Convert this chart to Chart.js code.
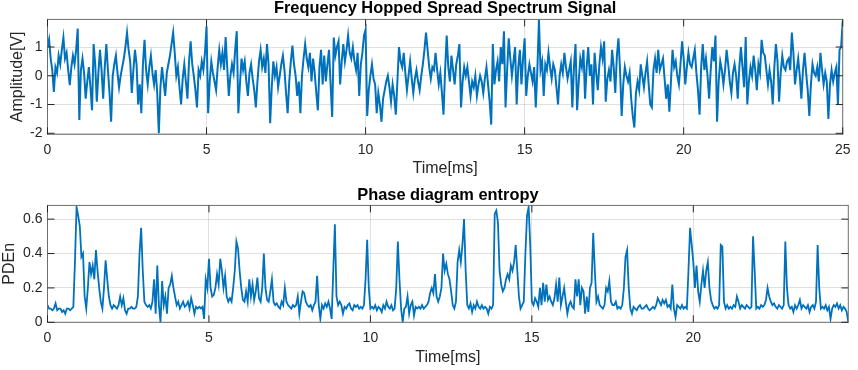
<!DOCTYPE html>
<html>
<head>
<meta charset="utf-8">
<script src="https://cdn.jsdelivr.net/npm/chart.js@4.4.1/dist/chart.umd.min.js"></script>
<style>
  html, body { margin: 0; padding: 0; background: #fff; }
  #wrap { position: relative; width: 858px; height: 370px; }
  canvas { position: absolute; left: 0; }
</style>
</head>
<body>
<div id="wrap">
  <canvas id="signalChart" width="858" height="185" style="top:0"></canvas>
  <canvas id="entropyChart" width="858" height="185" style="top:185px"></canvas>
</div>
<script>
// both traces are sampled every 0.05 ms, one row per millisecond
const sampleStep = 0.05;
const timeTicks = [0, 5, 10, 15, 20, 25];
const ampTicks = [-2, -1, 0, 1];
const pdenTicks = [0, 0.2, 0.4, 0.6];

const ampValues = [
    1.0, 1.27, 0.6, 0.2, -0.56, 0.3, 0.1, 0.7, 0.4, 0.9, 1.33, 0.6, 0.8, 0.2, -0.33, 0.3, 0.7, 0.4, 0.9, 1.64,
    -1.54, 0.2, 0.6, 0.1, -0.8, -0.2, 0.3, -0.4, -1.2, 1.1, 0.4, -0.9, 0.1, 0.9, 0.2, -0.8, 0.3, 1.1, 0.2, -0.6,
    -1.6, 0.0, 0.4, 0.7, 0.1, -0.4, 0.0, 0.3, 0.6, 1.0, 1.5, 0.9, 0.5, -0.6, 0.2, 0.9, 0.4, -1.0, -0.3, -1.3,
    0.4, 1.25, 0.2, -0.3, 0.3, 0.7, 0.1, -0.3, 0.2, -0.6, -2.0, -0.4, 0.3, -0.2, -0.7, 0.1, 0.4, 0.7, 1.1, 1.5,
    0.8, 0.0, 0.3, -0.4, -1.0, -0.1, 0.4, -0.2, -0.8, 0.5, 1.2, 0.4, 0.0, -0.5, -1.1, 0.2, 0.0, 0.5, 0.2, 0.8,
    1.72, -1.3, -0.2, 0.5, 0.1, -0.2, -0.5, 0.3, 0.9, 0.4, 0.8, 0.2, 1.35, 0.3, -0.7, 0.0, 0.4, 0.1, 0.9, 1.55,
    -1.3, -0.3, 0.6, 0.2, 0.5, -0.2, -0.7, 0.1, 0.4, -0.1, -0.5, -1.1, -0.2, 0.5, 0.9, 0.3, 0.6, 0.1, 1.1, 0.4,
    -1.65, -0.4, 0.5, 0.0, 0.3, -0.4, 0.0, 0.4, 0.7, 0.2, -0.6, -1.3, -0.2, 0.5, 1.05, 0.4, 0.0, -0.7, -0.2, -1.3,
    0.0, 0.6, 1.1, 0.6, 0.3, 0.8, -0.2, 0.6, 0.1, -0.6, -1.2, 0.3, 0.9, -0.3, 0.7, -0.2, 0.4, 0.9, -0.3, -1.43,
    1.33, 0.7, 1.0, 1.2, -0.3, 0.5, 1.1, 0.5, 0.9, 1.4, 0.8, 0.6, 1.0, 0.5, 0.2, 0.8, -0.7, 0.4, 0.8, 1.4,
    1.6, -1.4, -0.5, 0.0, 0.4, -0.1, -0.3, -1.3, -0.6, -1.0, -1.6, -0.8, -0.5, -0.2, 0.0, -0.4, -0.9, -0.3, -0.7, -1.35,
    -0.2, 1.0, 0.5, 0.3, 0.8, 0.1, -0.5, 0.0, 0.5, -0.1, -0.6, -0.1, 0.2, -0.2, -0.5, 0.0, 0.4, 0.9, 1.5, 0.9,
    0.3, -0.1, 0.3, 0.2, 0.8, 0.2, -0.3, 0.1, -0.6, -1.35, 0.2, 1.4, 0.3, -0.2, 0.7, 0.2, -0.3, 0.4, 0.7, 1.1,
    -1.1, -0.2, 0.3, 0.0, 0.3, -0.2, -0.7, -0.2, -0.4, 0.0, -0.7, -0.3, 0.0, -0.2, -0.6, -0.1, 0.3, -0.3, -0.9, -1.7,
    1.1, -0.3, 0.2, 0.5, -0.2, 1.0, 0.4, 1.55, -1.1, 0.2, 1.3, 0.6, 0.0, 0.5, 1.0, -1.0, 0.3, 0.9, -0.3, 0.6,
    1.3, -0.7, 0.0, 0.4, 0.1, -0.2, 0.3, -1.1, 0.2, 1.95, 0.2, 0.5, -0.7, 0.4, 0.2, 0.8, 0.3, -0.1, 0.4, 0.2,
    -0.4, -1.0, 0.0, 0.4, 0.1, 0.8, 0.3, -0.1, 0.2, 0.5, -1.1, 0.3, 1.1, -1.2, -0.2, 0.6, 0.3, 0.9, -0.8, 0.3,
    1.0, 0.0, 0.4, -1.0, 0.8, 0.1, -0.5, 0.4, 1.0, 0.6, 1.2, -0.9, -0.1, 0.2, -0.2, 0.9, 0.3, -0.6, 0.7, 1.3,
    0.2, -1.4, -0.3, 0.3, 0.0, -0.2, 0.1, -0.8, -1.4, -1.8, -0.6, -0.2, -0.5, 0.4, 0.0, -0.4, 0.1, 0.5, -0.3, -1.0,
    -1.1, 0.2, 0.6, 0.1, 0.9, 0.2, 0.4, 0.6, -0.1, -0.8, -0.3, -1.25, -0.2, 0.9, 0.3, 0.5, 0.0, -0.3, 0.4, 1.2,
    0.6, -0.3, 0.3, 0.8, 0.4, 0.3, 0.6, 0.9, 0.1, -0.5, -1.35, 0.3, 1.1, 0.2, 0.6, 0.0, -0.8, 0.2, 1.0, 0.5,
    1.4, -1.6, -0.2, 0.5, 0.2, -0.3, 0.2, 0.9, 0.4, -0.2, -0.6, 0.1, 0.4, 0.0, -0.8, 0.3, 1.0, 0.3, -0.4, 1.35,
    -1.0, -0.2, 0.3, 0.0, 0.7, 0.2, -0.5, 0.4, 0.1, 1.25, 0.8, 0.7, 0.2, -0.3, 0.2, -0.2, -1.0, 0.3, 1.1, 0.5,
    -0.9, 0.1, 0.7, 0.3, 0.2, 0.5, 0.6, 0.2, 1.5, 0.8, -0.3, 0.2, 0.6, 0.0, -0.8, 0.2, 0.8, 0.1, -0.5, -1.4,
    -0.3, 0.4, 0.1, 0.0, 0.3, -0.2, 0.8, 0.2, -0.3, 0.1, -0.2, -1.5, -0.3, 0.2, -0.2, 0.1, 0.3, -1.0, 0.9, 1.0,
    1.9
];

const pdenValues = [
    0.10, 0.08, 0.08, 0.07, 0.08, 0.11, 0.07, 0.08, 0.08, 0.06, 0.07, 0.05, 0.08, 0.08, 0.07, 0.08, 0.09, 0.35, 0.67, 0.62,
    0.56, 0.38, 0.40, 0.15, 0.08, 0.20, 0.35, 0.28, 0.33, 0.25, 0.42, 0.30, 0.20, 0.12, 0.08, 0.20, 0.36, 0.25, 0.15, 0.10,
    0.08, 0.10, 0.09, 0.08, 0.10, 0.15, 0.10, 0.14, 0.07, 0.05, 0.08, 0.08, 0.09, 0.08, 0.08, 0.09, 0.15, 0.40, 0.55, 0.30,
    0.12, 0.10, 0.09, 0.10, 0.08, 0.12, 0.25, 0.05, 0.33, 0.10, 0.00, 0.24, 0.10, 0.15, 0.05, 0.20, 0.22, 0.27, 0.20, 0.15,
    0.10, 0.12, 0.08, 0.10, 0.12, 0.09, 0.10, 0.12, 0.08, 0.14, 0.10, 0.05, 0.09, 0.08, 0.09, 0.08, 0.09, 0.02, 0.25, 0.20,
    0.37, 0.20, 0.15, 0.16, 0.20, 0.28, 0.22, 0.37, 0.30, 0.20, 0.27, 0.15, 0.12, 0.14, 0.12, 0.20, 0.30, 0.47, 0.43, 0.30,
    0.20, 0.13, 0.12, 0.18, 0.12, 0.25, 0.15, 0.22, 0.13, 0.18, 0.26, 0.14, 0.12, 0.20, 0.40, 0.20, 0.13, 0.12, 0.18, 0.25,
    0.12, 0.10, 0.11, 0.09, 0.08, 0.12, 0.10, 0.20, 0.12, 0.10, 0.09, 0.08, 0.10, 0.09, 0.10, 0.15, 0.05, 0.12, 0.18, 0.17,
    0.12, 0.10, 0.09, 0.10, 0.07, 0.10, 0.12, 0.27, 0.10, 0.02, 0.10, 0.08, 0.11, 0.09, 0.12, 0.08, 0.02, 0.30, 0.57, 0.15,
    0.10, 0.12, 0.10, 0.05, 0.09, 0.08, 0.10, 0.11, 0.08, 0.07, 0.10, 0.09, 0.10, 0.08, 0.09, 0.08, 0.10, 0.25, 0.48, 0.20,
    0.08, 0.09, 0.08, 0.10, 0.07, 0.09, 0.08, 0.06, 0.10, 0.08, 0.12, 0.09, 0.08, 0.10, 0.07, 0.08, 0.20, 0.47, 0.25, 0.08,
    0.00, 0.08, 0.09, 0.15, 0.05, 0.10, 0.12, 0.04, 0.09, 0.08, 0.09, 0.08, 0.10, 0.08, 0.09, 0.10, 0.12, 0.17, 0.20, 0.17,
    0.28, 0.15, 0.12, 0.15, 0.20, 0.40, 0.30, 0.34, 0.28, 0.25, 0.18, 0.10, 0.08, 0.12, 0.35, 0.42, 0.35, 0.45, 0.60, 0.30,
    0.10, 0.08, 0.11, 0.06, 0.10, 0.08, 0.12, 0.09, 0.08, 0.10, 0.08, 0.09, 0.08, 0.05, 0.09, 0.08, 0.10, 0.63, 0.65, 0.58,
    0.30, 0.22, 0.18, 0.20, 0.25, 0.28, 0.25, 0.33, 0.30, 0.35, 0.45, 0.30, 0.15, 0.08, 0.10, 0.12, 0.40, 0.62, 0.67, 0.45,
    0.12, 0.10, 0.14, 0.12, 0.09, 0.20, 0.10, 0.23, 0.12, 0.22, 0.13, 0.15, 0.12, 0.10, 0.14, 0.22, 0.12, 0.26, 0.10, 0.15,
    0.20, 0.12, 0.05, 0.10, 0.12, 0.09, 0.08, 0.25, 0.15, 0.25, 0.10, 0.20, 0.18, 0.05, 0.15, 0.06, 0.20, 0.23, 0.52, 0.30,
    0.12, 0.15, 0.10, 0.09, 0.08, 0.10, 0.20, 0.18, 0.24, 0.12, 0.10, 0.10, 0.12, 0.08, 0.09, 0.08, 0.10, 0.20, 0.38, 0.42,
    0.20, 0.08, 0.05, 0.09, 0.08, 0.07, 0.09, 0.10, 0.08, 0.08, 0.09, 0.10, 0.08, 0.07, 0.08, 0.09, 0.08, 0.10, 0.14, 0.12,
    0.10, 0.13, 0.11, 0.13, 0.09, 0.10, 0.08, 0.22, 0.08, 0.03, 0.10, 0.09, 0.08, 0.10, 0.08, 0.09, 0.08, 0.30, 0.55, 0.45,
    0.35, 0.20, 0.33, 0.18, 0.12, 0.22, 0.30, 0.20, 0.30, 0.35, 0.20, 0.13, 0.10, 0.08, 0.09, 0.08, 0.10, 0.45, 0.44, 0.12,
    0.08, 0.10, 0.08, 0.09, 0.08, 0.10, 0.09, 0.15, 0.12, 0.08, 0.10, 0.09, 0.08, 0.10, 0.09, 0.08, 0.09, 0.50, 0.30, 0.08,
    0.09, 0.08, 0.10, 0.09, 0.10, 0.13, 0.20, 0.15, 0.12, 0.10, 0.11, 0.09, 0.08, 0.10, 0.09, 0.08, 0.10, 0.47, 0.20, 0.10,
    0.08, 0.09, 0.06, 0.10, 0.08, 0.10, 0.13, 0.08, 0.10, 0.09, 0.08, 0.10, 0.06, 0.09, 0.10, 0.08, 0.12, 0.45, 0.20, 0.08,
    0.09, 0.08, 0.10, 0.07, 0.09, 0.02, 0.08, 0.10, 0.09, 0.11, 0.08, 0.10, 0.07, 0.09, 0.08, 0.06, 0.00
];

Chart.defaults.font.family = "'Liberation Sans', Arial, sans-serif";
Chart.defaults.color = "#262626";

const gridColor = "rgba(0,0,0,0.12)";

function toPoints(values) {
    return values.map((v, i) => ({ x: +(i * sampleStep).toFixed(2), y: v }));
}

// matlab style: closed box and short ticks pointing inwards
const boxAndTicks = {
    id: "boxAndTicks",
    afterDraw(chart) {
        const { ctx, chartArea: a, scales } = chart;
        const len = 7;
        ctx.save();
        ctx.strokeStyle = "#6e6e6e";
        ctx.lineWidth = 1;
        ctx.strokeRect(a.left, a.top, a.right - a.left, a.bottom - a.top);
        ctx.strokeStyle = "#262626";
        ctx.beginPath();
        scales.x.ticks.forEach((t) => {
            const x = scales.x.getPixelForValue(t.value);
            ctx.moveTo(x, a.bottom);
            ctx.lineTo(x, a.bottom - len);
            ctx.moveTo(x, a.top);
            ctx.lineTo(x, a.top + len);
        });
        scales.y.ticks.forEach((t) => {
            const y = scales.y.getPixelForValue(t.value);
            ctx.moveTo(a.left, y);
            ctx.lineTo(a.left + len, y);
            ctx.moveTo(a.right, y);
            ctx.lineTo(a.right - len, y);
        });
        ctx.stroke();
        ctx.restore();
    },
};

function makeChart(id, cfg) {
    return new Chart(document.getElementById(id), {
        type: "line",
        data: {
            datasets: [
                {
                    data: toPoints(cfg.values),
                    borderColor: "#0072BD",
                    borderWidth: cfg.lineWidth,
                    pointRadius: 0,
                    tension: 0,
                },
            ],
        },
        options: {
            responsive: false,
            animation: false,
            events: [],
            layout: { padding: { left: 0, right: cfg.padRight, top: 0, bottom: 0 } },
            plugins: {
                legend: { display: false },
                tooltip: { enabled: false },
                title: {
                    display: true,
                    text: cfg.title,
                    fullSize: false,
                    color: "#000",
                    font: { size: 16.4, weight: "bold", lineHeight: 1 },
                    padding: cfg.titlePad,
                },
            },
            scales: {
                x: {
                    type: "linear",
                    min: 0,
                    max: cfg.xMax,
                    afterBuildTicks: (s) => {
                        s.ticks = timeTicks.filter((v) => v <= cfg.xMax).map((v) => ({ value: v }));
                    },
                    afterFit: (s) => {
                        s.height = cfg.xHeight;
                    },
                    grid: { color: gridColor, drawTicks: false },
                    border: { display: false },
                    ticks: { padding: 7.5, font: { size: 14 }, maxRotation: 0, autoSkip: false, callback: (v) => String(v) },
                    title: { display: true, text: "Time[ms]", font: { size: 16 }, padding: { top: 0, bottom: cfg.xTitlePad } },
                },
                y: {
                    min: cfg.yMin,
                    max: cfg.yMax,
                    afterBuildTicks: (s) => {
                        s.ticks = cfg.yTicks.map((v) => ({ value: v }));
                    },
                    afterFit: (s) => {
                        s.width = 47.5;
                    },
                    grid: { color: gridColor, drawTicks: false },
                    border: { display: false },
                    ticks: { padding: 5, font: { size: 14 }, callback: (v) => String(v) },
                    title: { display: true, text: cfg.yLabel, font: { size: 16 }, padding: { top: cfg.yTitlePad, bottom: 0 } },
                },
            },
        },
        plugins: [boxAndTicks],
    });
}

makeChart("signalChart", {
    values: ampValues,
    lineWidth: 2,
    title: "Frequency Hopped Spread Spectrum Signal",
    titlePad: { top: 0, bottom: 3 },
    yLabel: "Amplitude[V]",
    yTicks: ampTicks,
    yMin: -2.035,
    yMax: 1.96,
    yTitlePad: 8.4,
    xMax: 25,
    xHeight: 50.7,
    xTitlePad: 6.4,
    padRight: 10,
});

makeChart("entropyChart", {
    values: pdenValues,
    lineWidth: 1.8,
    title: "Phase diagram entropy",
    titlePad: { top: 2.2, bottom: 1.8 },
    yLabel: "PDEn",
    yTicks: pdenTicks,
    yMin: 0,
    yMax: 0.68,
    yTitlePad: 0,
    xMax: 24.8,
    xHeight: 47.7,
    xTitlePad: 2.8,
    padRight: 9.7,
});
</script>
</body>
</html>
